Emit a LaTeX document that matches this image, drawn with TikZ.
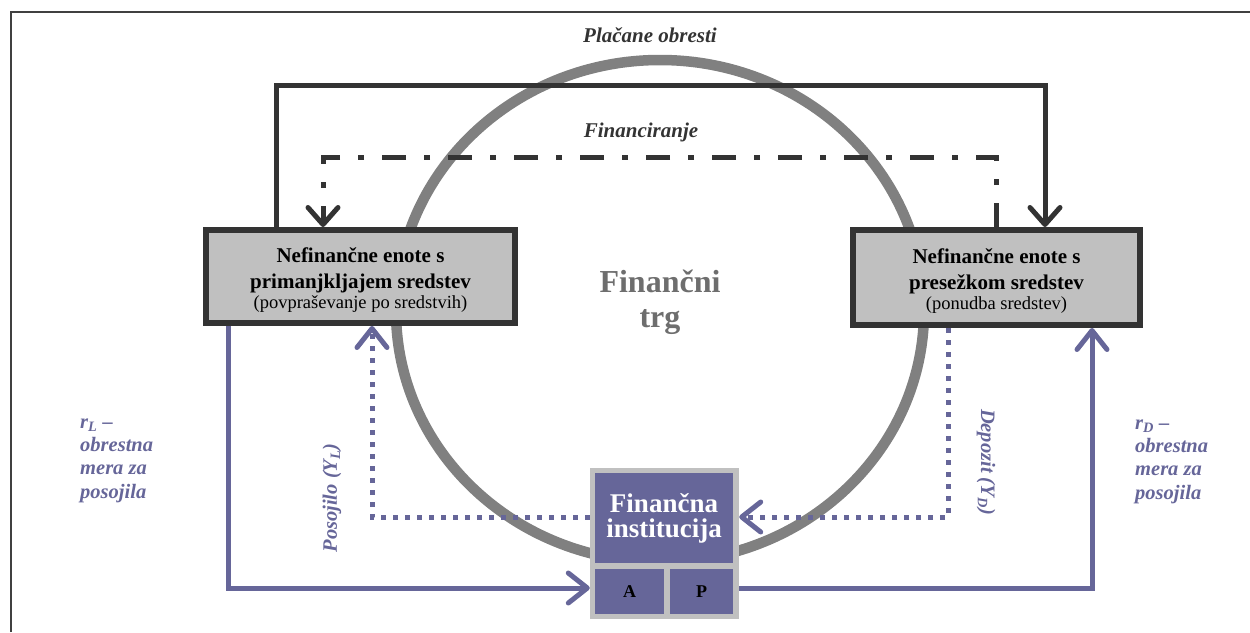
\documentclass[tikz,border=0pt]{standalone}
\usepackage{fontspec}
\setmainfont{Liberation Serif}
\usetikzlibrary{arrows.meta,calc}
\definecolor{pur}{HTML}{666699}
\definecolor{dk}{HTML}{333333}
\definecolor{ringgray}{HTML}{808080}
\definecolor{boxgray}{HTML}{C0C0C0}
\definecolor{txtgray}{HTML}{6E6E6E}
\definecolor{framegray}{HTML}{404040}
\begin{document}
\begin{tikzpicture}[x=1pt,y=-1pt,
  unitbox/.style={draw=dk,fill=boxgray,line width=6pt,align=center,inner sep=0pt,
    font=\fontsize{21}{26}\selectfont\bfseries},
  blkline/.style={draw=dk,line width=5pt,-{Straight Barb[length=17pt,width=30pt,round]}},
  dashdotline/.style={blkline,dash pattern=on 24pt off 18pt on 6pt off 18pt},
  purline/.style={draw=pur,line width=5pt,-{Straight Barb[length=19pt,width=30pt,round]}},
  purdots/.style={purline,dash pattern=on 5pt off 7pt},
  flowlabel/.style={font=\fontsize{21}{24}\selectfont\bfseries\itshape,text=dk,inner sep=0pt},
  ratelabel/.style={font=\fontsize{20.5}{23.3}\selectfont\bfseries\itshape,text=pur,align=left,inner sep=0pt},
  sidelabel/.style={font=\fontsize{20.5}{24}\selectfont\bfseries\itshape,text=pur,inner sep=0pt},
  instpart/.style={fill=pur,inner sep=0pt}
]
\useasboundingbox (0,0) rectangle (1250,632);
% frame
\draw[framegray,line width=2.5pt] (11,632) -- (11,12) -- (1250,12);
% market ring
\draw[ringgray,line width=10.5pt] (660,311) ellipse [x radius=264,y radius=251];
\node[font=\fontsize{32}{35}\selectfont\bfseries,text=txtgray,align=center,inner sep=0pt] (trg) at (660,302) {Finančni\\trg};

% units
\node[unitbox,minimum width=309pt,minimum height=93pt] (L) at (360.5,276.5)
  {\rule{0pt}{22pt}Nefinančne enote s\\
   primanjkljajem sredstev\\[-6pt]
   {\normalfont\fontsize{18.5}{20}\selectfont (povpraševanje po sredstvih)}};
\node[unitbox,minimum width=287pt,minimum height=95pt] (R) at (996.5,277.5)
  {\rule{0pt}{22pt}Nefinančne enote s\\
   presežkom sredstev\\[-6pt]
   {\normalfont\fontsize{18.5}{20}\selectfont (ponudba sredstev)}};

% financial institution
\node[fill=boxgray,minimum width=149pt,minimum height=151pt,inner sep=0pt] (F) at (664.5,543.5) {};
\node[instpart,minimum width=138pt,minimum height=90pt,text=white,align=center,
  font=\fontsize{27}{25}\selectfont\bfseries] (T) at (664,518) {Finančna\\institucija};
\node[instpart,minimum width=69pt,minimum height=45pt,font=\fontsize{18}{20}\selectfont\bfseries] (A) at (629.5,591.5) {A};
\node[instpart,minimum width=63pt,minimum height=45pt,font=\fontsize{18}{20}\selectfont\bfseries] (P) at (701.5,591.5) {P};

% routing points
\coordinate (a1) at (276,85);
\coordinate (a2) at (1045,85);
\coordinate (b1) at (996,157);
\coordinate (b2) at (323,157);
\coordinate (c1) at (228,588);
\coordinate (c2) at (1092,588);
\coordinate (d1) at (948,517);
\coordinate (d2) at (372,517);

% interest paid
\draw[blkline] (L.north -| a1) -- (a1) -- (a2) -- (R.north -| a2);
% financing
\draw[dashdotline] (R.north -| b1) -- (b1) -- (b2) -- (L.north -| b2);
% loans side
\draw[purline] (L.south -| c1) -- (c1) -- (F.west |- c1);
\draw[purdots] (F.west |- d2) -- (d2) -- (L.south -| d2);
% deposit side
\draw[purline] (F.east |- c2) -- (c2) -- (R.south -| c2);
\draw[purdots] (R.south -| d1) -- (d1) -- (F.east |- d1);

% labels
\node[flowlabel,anchor=base] (lint) at (650,42) {Plačane obresti};
\node[flowlabel,anchor=base] (lfin) at (641,137) {Financiranje};
\node[ratelabel,anchor=base west] (rl) at (80,498) {r\textsubscript{L} –\\obrestna\\mera za\\posojila};
\node[ratelabel,anchor=base west] (rd) at (1135,499) {r\textsubscript{D} –\\obrestna\\mera za\\posojila};
\node[sidelabel,rotate=90] (lpos) at (332,498) {Posojilo (Y\textsubscript{L})};
\node[sidelabel,rotate=-90] (ldep) at (986,462) {Depozit (Y\textsubscript{D})};
\end{tikzpicture}
\end{document}
